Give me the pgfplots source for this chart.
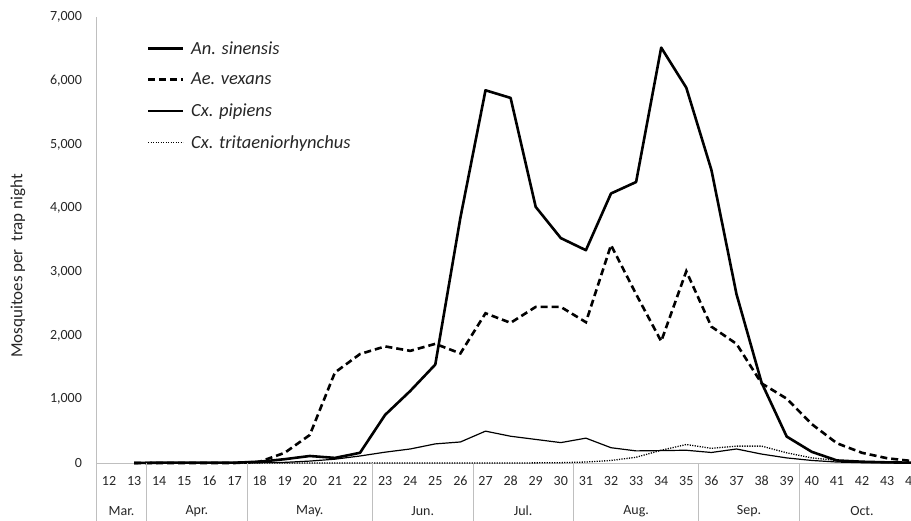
\documentclass[border=0pt]{standalone}
\usepackage{pgfplots}
\pgfplotsset{compat=1.18}
\usepackage{pgfplotstable}
\usepackage{fontspec}
\setmainfont{Carlito}
\definecolor{sep}{HTML}{BFBFBF}

\pgfplotstableread{
x   an    ae    cxp   cxt
13  0     0     0     0
14  5     0     0     0
15  5     0     0     0
16  5     0     0     0
17  5     0     0     0
18  20    20    5     0
19  60    160   10    0
20  110   440   30    0
21  80    1420  60    0
22  160   1710  110   0
23  755   1830  170   0
24  1130  1760  220   0
25  1545  1870  300   0
26  3850  1720  330   0
27  5850  2350  500   0
28  5730  2200  420   0
29  4020  2450  370   2
30  3530  2450  320   5
31  3340  2210  390   15
32  4230  3420  240   40
33  4410  2650  190   90
34  6520  1910  195   200
35  5890  3010  200   290
36  4600  2140  165   230
37  2650  1870  220   265
38  1260  1250  140   265
39  415   1010  80    160
40  175   610   40    80
41  40    310   15    40
42  20    160   5     20
43  10    75    3     10
44  5     30    0     5
}\datatable

\newcommand{\mlab}[2]{\node[font=\fontsize{14}{16}\selectfont, text=black!85, anchor=center] at ([yshift=-48pt]axis cs:#1,0) {#2};}

\begin{document}
\begin{tikzpicture}
\path[use as bounding box, clip] (0pt,0pt) rectangle (911pt,520pt);
\begin{axis}[
  at={(96.45pt,57pt)}, anchor=south west,
  scale only axis,
  width=828.3pt, height=446pt,
  xmin=11.5, xmax=44.5,
  ymin=0, ymax=7000,
  clip=false,
  axis lines=left,
  axis line style={-, sep, line width=0.8pt},
  major tick length=0pt,
  xtick={12,...,44},
  ytick={0,1000,...,7000},
  /pgf/number format/assume math mode=true,
  /pgf/number format/1000 sep={,},
  ticklabel style={font=\fontsize{14}{16}\selectfont, text=black!85},
  xticklabel style={anchor=center, yshift=-18pt},
  yticklabel style={anchor=east, xshift=-11pt},
  ylabel={Mosquitoes per\ \ trap night},
  ylabel style={at={(axis description cs:-0.0947,0.442)}, anchor=center, rotate=0, font=\fontsize{17}{20}\selectfont, text=black!85},
  legend style={draw=none, fill=none, at={(axis description cs:0.057,0.955)}, anchor=north west,
     font=\fontsize{18.5}{21}\selectfont\itshape, row sep=13.5pt, text=black!85},
  legend cell align=left,
  legend image code/.code={\draw[#1] (0pt,0pt) -- (35pt,0pt); \path[draw=none, fill=none] (0pt,0pt) rectangle (41pt,0.1pt);},
]
\addplot[black, line width=2.6pt, line join=round] table[x=x,y=an] {\datatable};
\addlegendentry{An. sinensis}
\addplot[black, line width=2.6pt, dash pattern=on 7pt off 4pt] table[x=x,y=ae] {\datatable};
\addlegendentry{Ae. vexans}
\addplot[black, line width=1.2pt, line join=round] table[x=x,y=cxp] {\datatable};
\addlegendentry{Cx. pipiens}
\addplot[black, line width=1.3pt, dash pattern=on 1.2pt off 1.3pt] table[x=x,y=cxt] {\datatable};
\addlegendentry{Cx. tritaeniorhynchus}

\pgfplotsinvokeforeach{11.5,13.5,17.5,22.5,26.5,30.5,35.5,39.5,44.5}{
  \draw[sep, line width=0.8pt] (axis cs:#1,0) -- ++(0pt,-60pt);
}
\mlab{12.5}{Mar.}
\mlab{15.5}{Apr.}
\mlab{20}{May.}
\mlab{24.5}{Jun.}
\mlab{28.5}{Jul.}
\mlab{33}{Aug.}
\mlab{37.5}{Sep.}
\mlab{42}{Oct.}
\end{axis}
\end{tikzpicture}
\end{document}
